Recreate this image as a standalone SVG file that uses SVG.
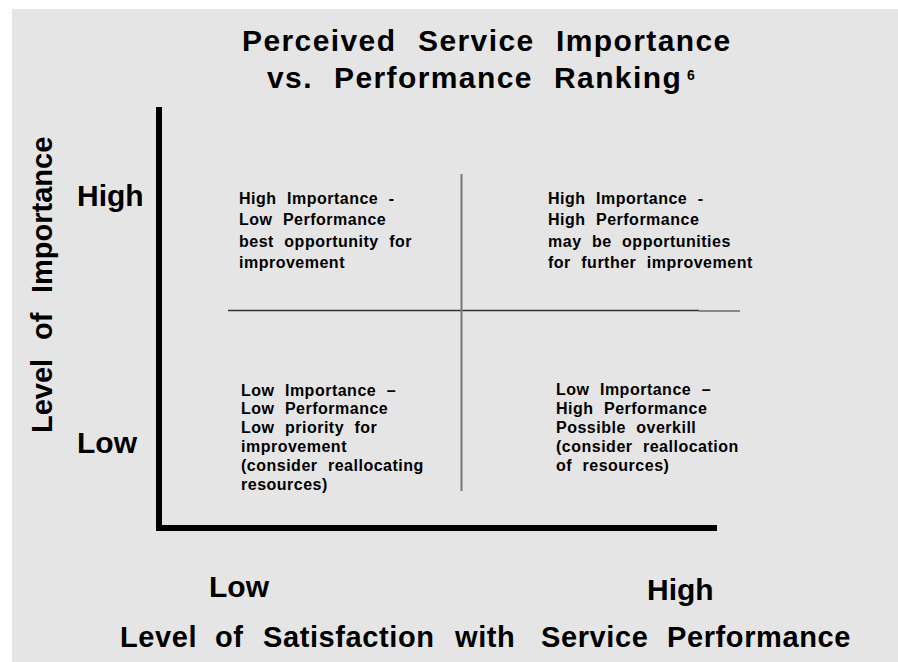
<svg xmlns="http://www.w3.org/2000/svg" width="898" height="662" viewBox="0 0 898 662">
<style>
text{font-family:"Liberation Sans",Arial,sans-serif;font-weight:bold;fill:#000}
.title{font-size:30px;letter-spacing:1.4px}
.axis{font-size:30px}
.xlab{font-size:29px;letter-spacing:0.6px}
.ylab{font-size:29px}
.q{font-size:16px;letter-spacing:0.5px;word-spacing:5.5px}
</style>
<rect x="12" y="9" width="886" height="653" fill="#e5e5e5"/>
<g id="title">
<text class="title" y="51"><tspan x="242">Perceived</tspan><tspan x="418">Service</tspan><tspan x="556">Importance</tspan></text>
<text class="title" y="88"><tspan x="267">vs.</tspan><tspan x="334">Performance</tspan><tspan x="554">Ranking</tspan><tspan x="687" y="80" style="font-size:14px;letter-spacing:0">6</tspan></text>
</g>
<g id="connectors">
<path d="M159,107 V528 H717" fill="none" stroke="#000" stroke-width="6" stroke-linejoin="miter"/>
<line x1="228" y1="310.5" x2="699" y2="310.5" stroke="#333" stroke-width="1.5"/>
<line x1="699" y1="311" x2="740" y2="311" stroke="#888" stroke-width="2"/>
<line x1="461.5" y1="174" x2="461.5" y2="491" stroke="#777" stroke-width="2"/>
</g>
<g id="y-axis-labels">
<text class="ylab" transform="rotate(-90)" y="52"><tspan x="-433">Level</tspan><tspan x="-340">of</tspan><tspan x="-293">Importance</tspan></text>
<text class="axis" x="77" y="206">High</text>
<text class="axis" x="77" y="453">Low</text>
</g>
<g id="x-axis-labels">
<text class="axis" x="209" y="597">Low</text>
<text class="axis" x="647" y="600">High</text>
<text class="xlab" y="647"><tspan x="120">Level</tspan><tspan x="215">of</tspan><tspan x="263">Satisfaction</tspan><tspan x="455">with</tspan><tspan x="541">Service</tspan><tspan x="667">Performance</tspan></text>
</g>
<g id="quadrant-high-low">
<text class="q" x="239" y="204">High Importance -</text>
<text class="q" x="239" y="225">Low Performance</text>
<text class="q" x="239" y="247">best opportunity for</text>
<text class="q" x="239" y="268">improvement</text>
</g>
<g id="quadrant-high-high">
<text class="q" x="548" y="204">High Importance -</text>
<text class="q" x="548" y="225">High Performance</text>
<text class="q" x="548" y="247">may be opportunities</text>
<text class="q" x="548" y="268">for further improvement</text>
</g>
<g id="quadrant-low-low">
<text class="q" x="241" y="396">Low Importance –</text>
<text class="q" x="241" y="414">Low Performance</text>
<text class="q" x="241" y="433">Low priority for</text>
<text class="q" x="241" y="452">improvement</text>
<text class="q" x="241" y="471">(consider reallocating</text>
<text class="q" x="241" y="490">resources)</text>
</g>
<g id="quadrant-low-high">
<text class="q" x="556" y="395">Low Importance –</text>
<text class="q" x="556" y="414">High Performance</text>
<text class="q" x="556" y="433">Possible overkill</text>
<text class="q" x="556" y="452">(consider reallocation</text>
<text class="q" x="556" y="471">of resources)</text>
</g>
</svg>
